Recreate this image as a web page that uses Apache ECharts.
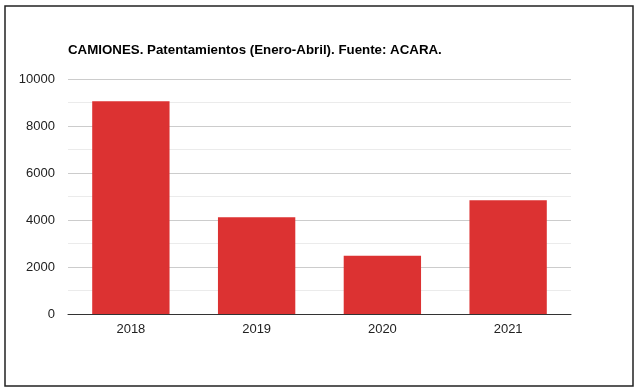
<!DOCTYPE html>
<html><head><meta charset="utf-8">
<script src="https://cdn.jsdelivr.net/npm/echarts@6/dist/echarts.min.js"></script>
<style>html,body{margin:0;padding:0;background:#fff}#c{width:640px;height:390px}</style>
</head><body><div id="c"></div>
<script>
var categories = ['2018', '2019', '2020', '2021'];
var values = [9050, 4115, 2480, 4840];
var yTicks = [0, 2000, 4000, 6000, 8000, 10000];

var chart = echarts.init(document.getElementById('c'), null, {renderer: 'canvas'});
chart.setOption({
  animation: false,
  backgroundColor: '#fff',
  title: {
    text: 'CAMIONES. Patentamientos (Enero-Abril). Fuente: ACARA.',
    left: 68, top: 44, padding: 0,
    textStyle: {fontFamily: 'Liberation Sans, Arial', fontSize: 13.3, fontWeight: 'bold', color: '#000'}
  },
  graphic: [{
    type: 'rect', shape: {x: 5, y: 6, width: 628, height: 380},
    style: {fill: null, stroke: '#222', lineWidth: 1.5}, silent: true
  }],
  grid: {left: 68, right: 69, top: 79, bottom: 76},
  xAxis: {
    type: 'category', data: categories,
    axisLine: {lineStyle: {color: '#333', width: 1}},
    axisTick: {show: false},
    axisLabel: {fontFamily: 'Liberation Sans, Arial', fontSize: 13, color: '#222', margin: 9}
  },
  yAxis: {
    type: 'value', min: yTicks[0], max: yTicks[yTicks.length - 1], interval: 2000,
    axisLine: {show: false}, axisTick: {show: false},
    axisLabel: {fontFamily: 'Liberation Sans, Arial', fontSize: 13, color: '#222', margin: 13,
      formatter: function (v) { return String(v); }},
    splitLine: {lineStyle: {color: '#cccccc', width: 1}},
    minorTick: {show: false, splitNumber: 2},
    minorSplitLine: {show: true, lineStyle: {color: '#ebebeb', width: 1}}
  },
  series: [{
    type: 'bar', data: values, barWidth: '61.5%',
    itemStyle: {color: '#dc3232'}
  }]
});
</script></body></html>
